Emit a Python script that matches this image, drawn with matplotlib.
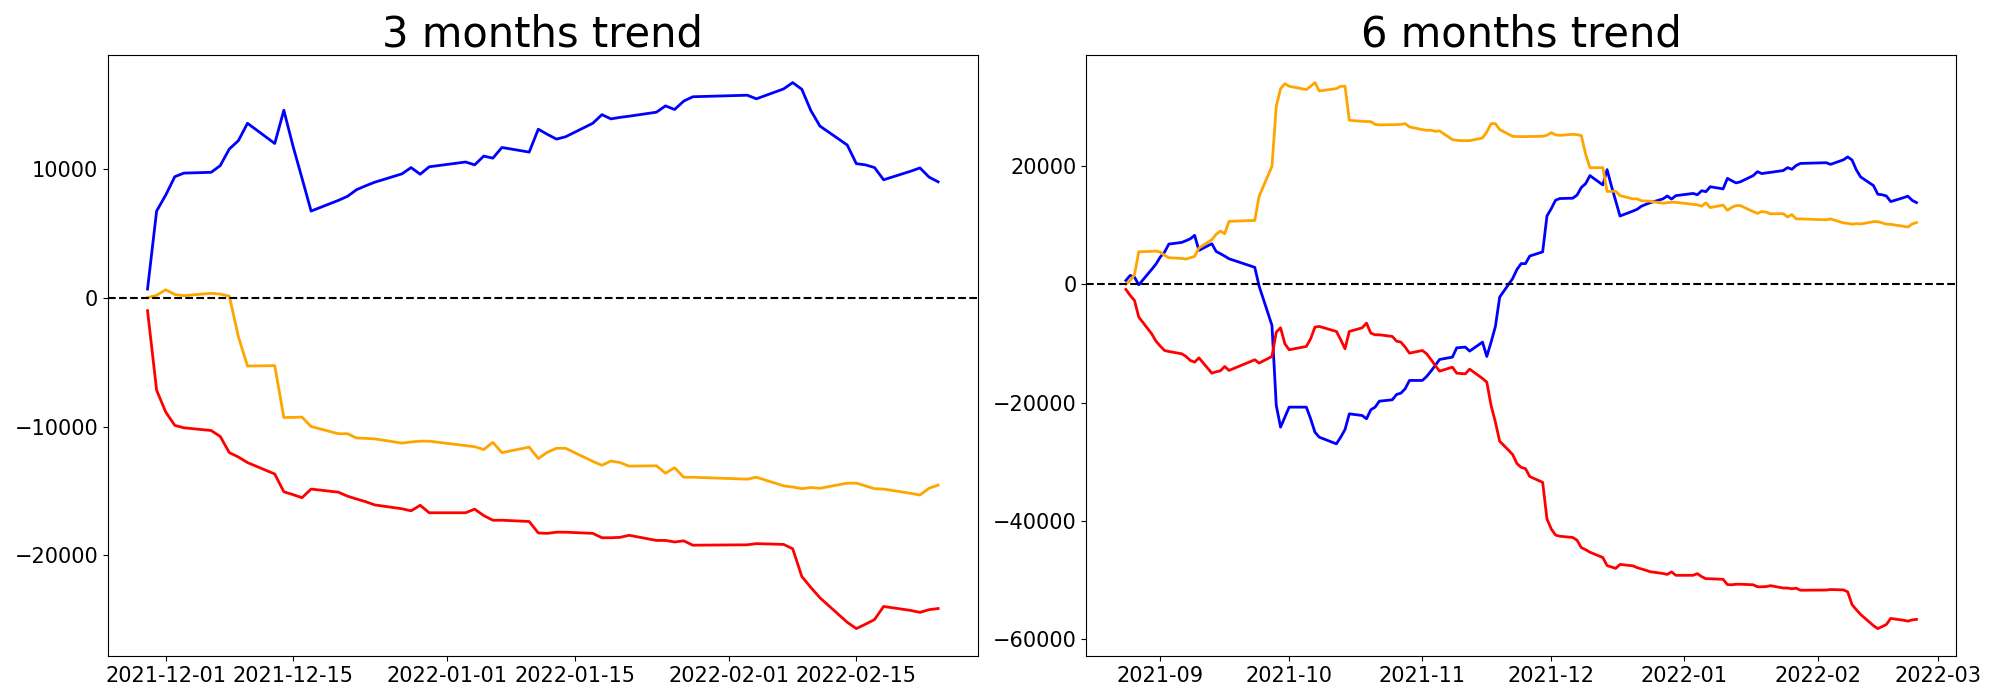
import pandas as pd
import matplotlib
matplotlib.use('Agg')
import matplotlib.pyplot as plt

# trading calendar (KRX closed days inside the window)
holidays = ['2021-09-20', '2021-09-21', '2021-09-22', '2021-10-04', '2021-10-11',
            '2021-12-31', '2022-01-31', '2022-02-01', '2022-02-02']
start_6m = '2021-08-24'
start_3m = '2021-11-29'
end_day = '2022-02-24'

# 3 months cumulative values
blue_3m = [700, 6760, 8000, 9430, 9710, 9770, 10290, 11580, 12230, 13580,
           12010, 14590, 11830, 9310, 6760, 7590, 7900, 8420, 8720, 9000,
           9650, 10140, 9620, 10200,
           10570, 10350, 11030, 10870, 11700, 11340, 13120, 12720, 12350, 12530,
           13580, 14250, 13920, 14040, 14130, 14440, 14930, 14650, 15300, 15640,
           15760, 15480, 16250, 16740, 16220, 14560, 13360, 11890, 10440, 10350,
           10140, 9190, 9860, 10110, 9400, 9030]
orange_3m = [30, 215, 645, 280, 185, 370, 307, 150, -3010, -5280,
             -5250, -9280, -9270, -9250, -9980, -10540, -10540, -10870, -10900, -10940,
             -11270, -11180, -11120, -11120,
             -11460, -11550, -11770, -11210, -12010, -11580, -12470, -11980, -11670, -11670,
             -12690, -12990, -12660, -12780, -13060, -13030, -13610, -13180, -13920, -13920,
             -14070, -13920, -14590, -14680, -14810, -14720, -14780, -14380, -14380, -14590,
             -14810, -14840, -15170, -15300, -14780, -14530]
red_3m = [-980, -7160, -8850, -9890, -10080, -10290, -10750, -12010, -12350, -12780,
          -13670, -15050, -15270, -15510, -14840, -15080, -15390, -15610, -15820, -16070,
          -16370, -16530, -16100, -16680,
          -16680, -16400, -16900, -17260, -17260, -17360, -18250, -18280, -18190, -18190,
          -18280, -18620, -18620, -18590, -18430, -18830, -18830, -18950, -18860, -19200,
          -19170, -19080, -19140, -19480, -21630, -22490, -23290, -25190, -25680, -25340,
          -24980, -23960, -24270, -24420, -24210, -24120]

# 6 months cumulative values
blue_6m = [640, 1490, 1200, -100, 2500, 3400,
           4590, 5430, 6780, 7060, 7350, 7680, 8250, 5710, 6840, 5540, 5150, 4750, 4300,
           2850, -300, -6960, -20480, -24140, -22450,
           -20760, -20760, -22730, -24990, -25830, -26960, -25830, -24540, -21890, -22170,
           -22730, -21210, -20760, -19750, -19520, -18620, -18400, -17660, -16250,
           -16250, -15580, -14680, -13720, -12710, -12310, -10740, -10680, -10620, -11300,
           -9780, -12200, -9780, -7140, -2170, 940, 2470, 3480, 3480, 4760,
           5460, 11520, 12760, 14190, 14470, 14530, 15050, 16340, 16990, 18340,
           16770, 19350, 16590, 14070, 11520, 12350, 12660, 13180, 13480, 13760,
           14410, 14900, 14380, 14960,
           15330, 15110, 15790, 15630, 16460, 16100, 17880, 17480, 17110, 17290,
           18340, 19010, 18680, 18800, 18890, 19200, 19690, 19410, 20060, 20400,
           20520, 20240, 21010, 21500, 20980, 19320, 18120, 16650, 15200, 15110,
           14900, 13950, 14620, 14870, 14160, 13790]
orange_6m = [0, 600, 1600, 5480, 5540, 5600,
             5430, 4870, 4470, 4360, 4250, 4470, 4700, 6110, 7520, 8420, 8980, 8530, 10610,
             10780, 14840, 19910, 30050, 33030, 33880,
             33430, 32870, 33430, 34050, 32640, 33030, 33430, 33430, 27680, 27510,
             27480, 27460, 27000, 26900, 26950, 26950, 27000, 27120, 26560,
             26110, 26000, 26000, 25830, 25890, 24420, 24310, 24250, 24250, 24250,
             24700, 25720, 27120, 27120, 26110, 24980, 24930, 24930, 24930, 24950,
             24980, 25165, 25595, 25230, 25135, 25320, 25257, 25100, 21940, 19670,
             19700, 15670, 15680, 15700, 14970, 14410, 14410, 14080, 14050, 14010,
             13680, 13770, 13830, 13830,
             13490, 13400, 13180, 13740, 12940, 13370, 12480, 12970, 13280, 13280,
             12260, 11960, 12290, 12170, 11890, 11920, 11340, 11770, 11030, 11030,
             10880, 11030, 10360, 10270, 10140, 10230, 10170, 10570, 10570, 10360,
             10140, 10110, 9780, 9650, 10170, 10420]
red_6m = [-880, -1890, -2740, -5550, -8370, -9610,
          -10450, -11190, -11360, -11750, -12200, -12880, -13160, -12430, -15020, -14790,
          -14620, -13890, -14560, -12760, -13320, -12200, -8080, -7360, -10060,
          -11070, -10510, -9210, -7240, -7130, -7980, -9380, -10900, -7980, -7360,
          -6570, -8260, -8540, -8540, -8820, -9610, -9780, -10620, -11640,
          -11190, -11750, -12710, -13720, -14680, -14010, -15020, -15080, -15130, -14340,
          -15920, -16540, -20480, -23300, -26510, -28740, -30270, -30940, -31140, -32480,
          -33460, -39640, -41330, -42370, -42560, -42770, -43230, -44490, -44830, -45260,
          -46150, -47530, -47750, -47990, -47320, -47560, -47870, -48090, -48300, -48550,
          -48850, -49010, -48580, -49160,
          -49160, -48880, -49380, -49740, -49740, -49840, -50730, -50760, -50670, -50670,
          -50760, -51100, -51100, -51070, -50910, -51310, -51310, -51430, -51340, -51680,
          -51650, -51560, -51620, -51960, -54110, -54970, -55770, -57670, -58160, -57820,
          -57460, -56440, -56750, -56900, -56690, -56600]

days = pd.bdate_range(start_6m, end_day)
days = days[~days.isin(pd.to_datetime(holidays))]
dates_6m = days
dates_3m = days[days >= pd.Timestamp(start_3m)]


def trend_plot(ax, dates, blue, orange, red, title):
    ax.plot(dates, blue, color='blue', linewidth=2)
    ax.plot(dates, orange, color='orange', linewidth=2)
    ax.plot(dates, red, color='red', linewidth=2)
    ax.axhline(0, color='black', linestyle='--', linewidth=1.5)
    ax.set_title(title, fontsize=30)
    ax.tick_params(labelsize=15)


fig, axes = plt.subplots(1, 2, figsize=(20, 7), dpi=100)
trend_plot(axes[0], dates_3m, blue_3m, orange_3m, red_3m, '3 months trend')
trend_plot(axes[1], dates_6m, blue_6m, orange_6m, red_6m, '6 months trend')
fig.subplots_adjust(left=0.054, right=0.978, top=0.921, bottom=0.063, wspace=0.125)
fig.savefig('out.png')
